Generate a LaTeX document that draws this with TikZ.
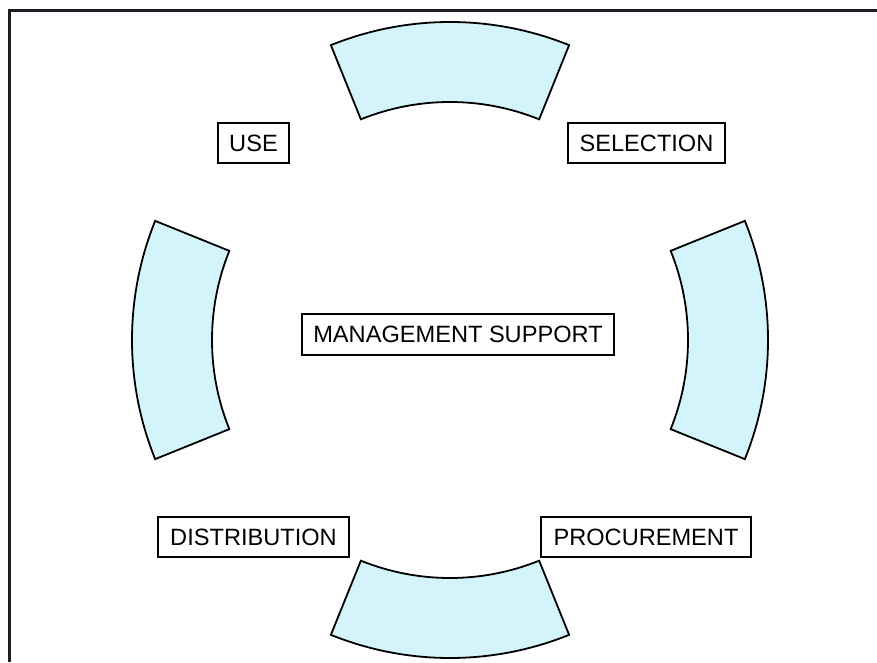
\documentclass[tikz,border=0pt]{standalone}
\usepackage{fontspec}
\setmainfont{Liberation Sans}
\usetikzlibrary{calc}
\definecolor{ringfill}{RGB}{212,244,252}
\definecolor{framegray}{RGB}{30,30,38}
\begin{document}
\begin{tikzpicture}[x=1pt,y=1pt,
  label box/.style={draw=black, line width=1.5pt, inner sep=0pt,
    minimum height=40pt, font=\fontsize{23.6}{28}\selectfont},
  ring part/.style={draw=black, line width=1.8pt, fill=ringfill, line join=miter}]
  \useasboundingbox (0,0) rectangle (877,662);
  % open frame: left and top edges only
  \draw[framegray, line width=2.2pt] (9.5,0) -- (9.5,651.5) -- (877,651.5);
  % ring of four curved segments
  \coordinate (ctr) at (450,322);
  \foreach \a in {0,90,180,270}{
    \draw[ring part] ($(ctr)+(\a-22:318)$)
      arc[start angle=\a-22, end angle=\a+22, radius=318]
      -- ($(ctr)+(\a+22:238)$)
      arc[start angle=\a+22, end angle=\a-22, radius=238]
      -- cycle;
  }
  % labels
  \node[label box, minimum width=71pt]  (use)  at (253.5,519) {USE};
  \node[label box, minimum width=157pt] (sel)  at (646.5,519) {SELECTION};
  \node[label box, minimum width=312pt, minimum height=41pt] (mgmt) at (458,327.5) {MANAGEMENT SUPPORT};
  \node[label box, minimum width=191pt] (dist) at (253.5,125) {DISTRIBUTION};
  \node[label box, minimum width=210pt] (proc) at (646,125) {PROCUREMENT};
\end{tikzpicture}
\end{document}
